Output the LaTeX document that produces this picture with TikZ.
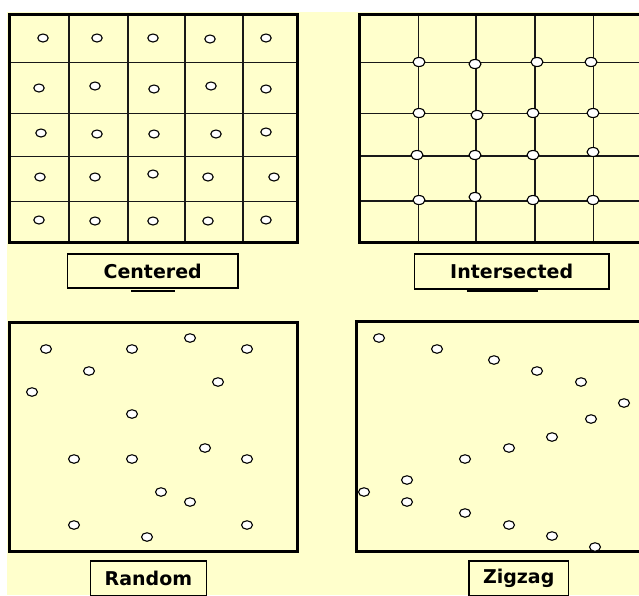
\documentclass[tikz,border=0pt]{standalone}
\usepackage{fontspec}
\newfontfamily\lblfont{DejaVu Sans}
\usetikzlibrary{shapes.geometric}
\definecolor{paper}{HTML}{FFFFCC}

\tikzset{
    panel/.style={draw=black, line width=3pt},
    gridline/.style={draw=black!90, line width=1.5pt},
    hole/.style={ellipse, draw=black, fill=white, line width=1.1pt,
                 minimum width=10.5pt, minimum height=8pt, inner sep=0pt},
    tag/.style={draw=black, line width=1.5pt, fill=paper, inner sep=0pt,
                font=\lblfont\bfseries\fontsize{19}{22}\selectfont}
}

\begin{document}
\begin{tikzpicture}[x=1pt, y=-1pt]
    % Background
    \fill[white] (0,0) rectangle (639,595);
    \fill[paper] (7,12) rectangle (639,595);
    \useasboundingbox (0,0) rectangle (639,595);

    % Centered: grid with one hole in each cell
    \foreach \x in {69,128,185,243}
        \draw[gridline] (\x,14) -- (\x,242.3);
    \foreach \y in {62.7,113.3,156.7,201.7}
        \draw[gridline] (9.5,\y) -- (297.5,\y);
    \draw[panel] (9.5,14) rectangle (297.5,242.3);
    \foreach \x/\y [count=\n] in {%
        43/38, 97/38, 153/38, 210/39, 266/38,%
        39/88, 95/86, 154/89, 211/86, 266/89,%
        41/133, 97/134, 154/134, 216/134, 266/132,%
        40/177, 95/177, 153/174, 208/177, 274/177,%
        39/220, 95/221, 153/221, 208/221, 266/220%
    } {
        \node[hole] (c\n) at (\x,\y) {};
    }
    \node[tag, minimum width=170.5pt, minimum height=34pt] (centered) at (152.7,271) {Centered};
    \draw[line width=2pt] (131,290.5) -- (175,290.5);

    % Intersected: holes on the crossings
    \foreach \x in {418.3,476,535,593.3}
        \draw[gridline] (\x,14) -- (\x,242.5);
    \foreach \y in {62.7,113.3,156,201}
        \draw[gridline] (359.3,\y) -- (652,\y);
    \draw[panel] (359.3,14) rectangle (652,242.5);
    \foreach \x/\y [count=\n] in {%
        419/62, 475/64, 537/62, 591/62,%
        419/113, 477/115, 533/113, 593/113,%
        417/155, 475/155, 533/155, 593/152,%
        419/200, 475/197, 533/200, 593/200%
    } {
        \node[hole, minimum width=12pt, minimum height=9pt] (i\n) at (\x,\y) {};
    }
    \node[tag, minimum width=194.5pt, minimum height=35pt] (intersected) at (511.7,271.5) {Intersected};
    \draw[line width=2pt] (466.7,290.5) -- (538.3,290.5);

    % Random
    \draw[panel] (9,322) rectangle (297,551);
    \foreach \x/\y [count=\n] in {%
        46/349, 132/349, 190/338, 247/349, 89/371, 218/382,%
        32/392, 132/414, 205/448, 74/459, 132/459, 247/459,%
        161/492, 190/502, 74/525, 247/525, 147/537%
    } {
        \node[hole, minimum width=11pt, minimum height=8.5pt] (r\n) at (\x,\y) {};
    }
    \node[tag, minimum width=116.2pt, minimum height=35pt] (random) at (148.4,578.5) {Random};

    % Zigzag
    \draw[panel] (356,321.5) rectangle (652,551);
    \foreach \x/\y [count=\n] in {%
        379/338, 437/349, 494/360, 537/371, 581/382, 624/403,%
        591/419, 552/437, 509/448, 465/459, 407/480, 364/492,%
        407/502, 465/513, 509/525, 552/536, 595/547%
    } {
        \node[hole, minimum width=11pt, minimum height=8.5pt] (z\n) at (\x,\y) {};
    }
    \node[tag, minimum width=99.5pt, minimum height=35pt] (zigzag) at (518.7,578.5) {Zigzag};
\end{tikzpicture}
\end{document}
